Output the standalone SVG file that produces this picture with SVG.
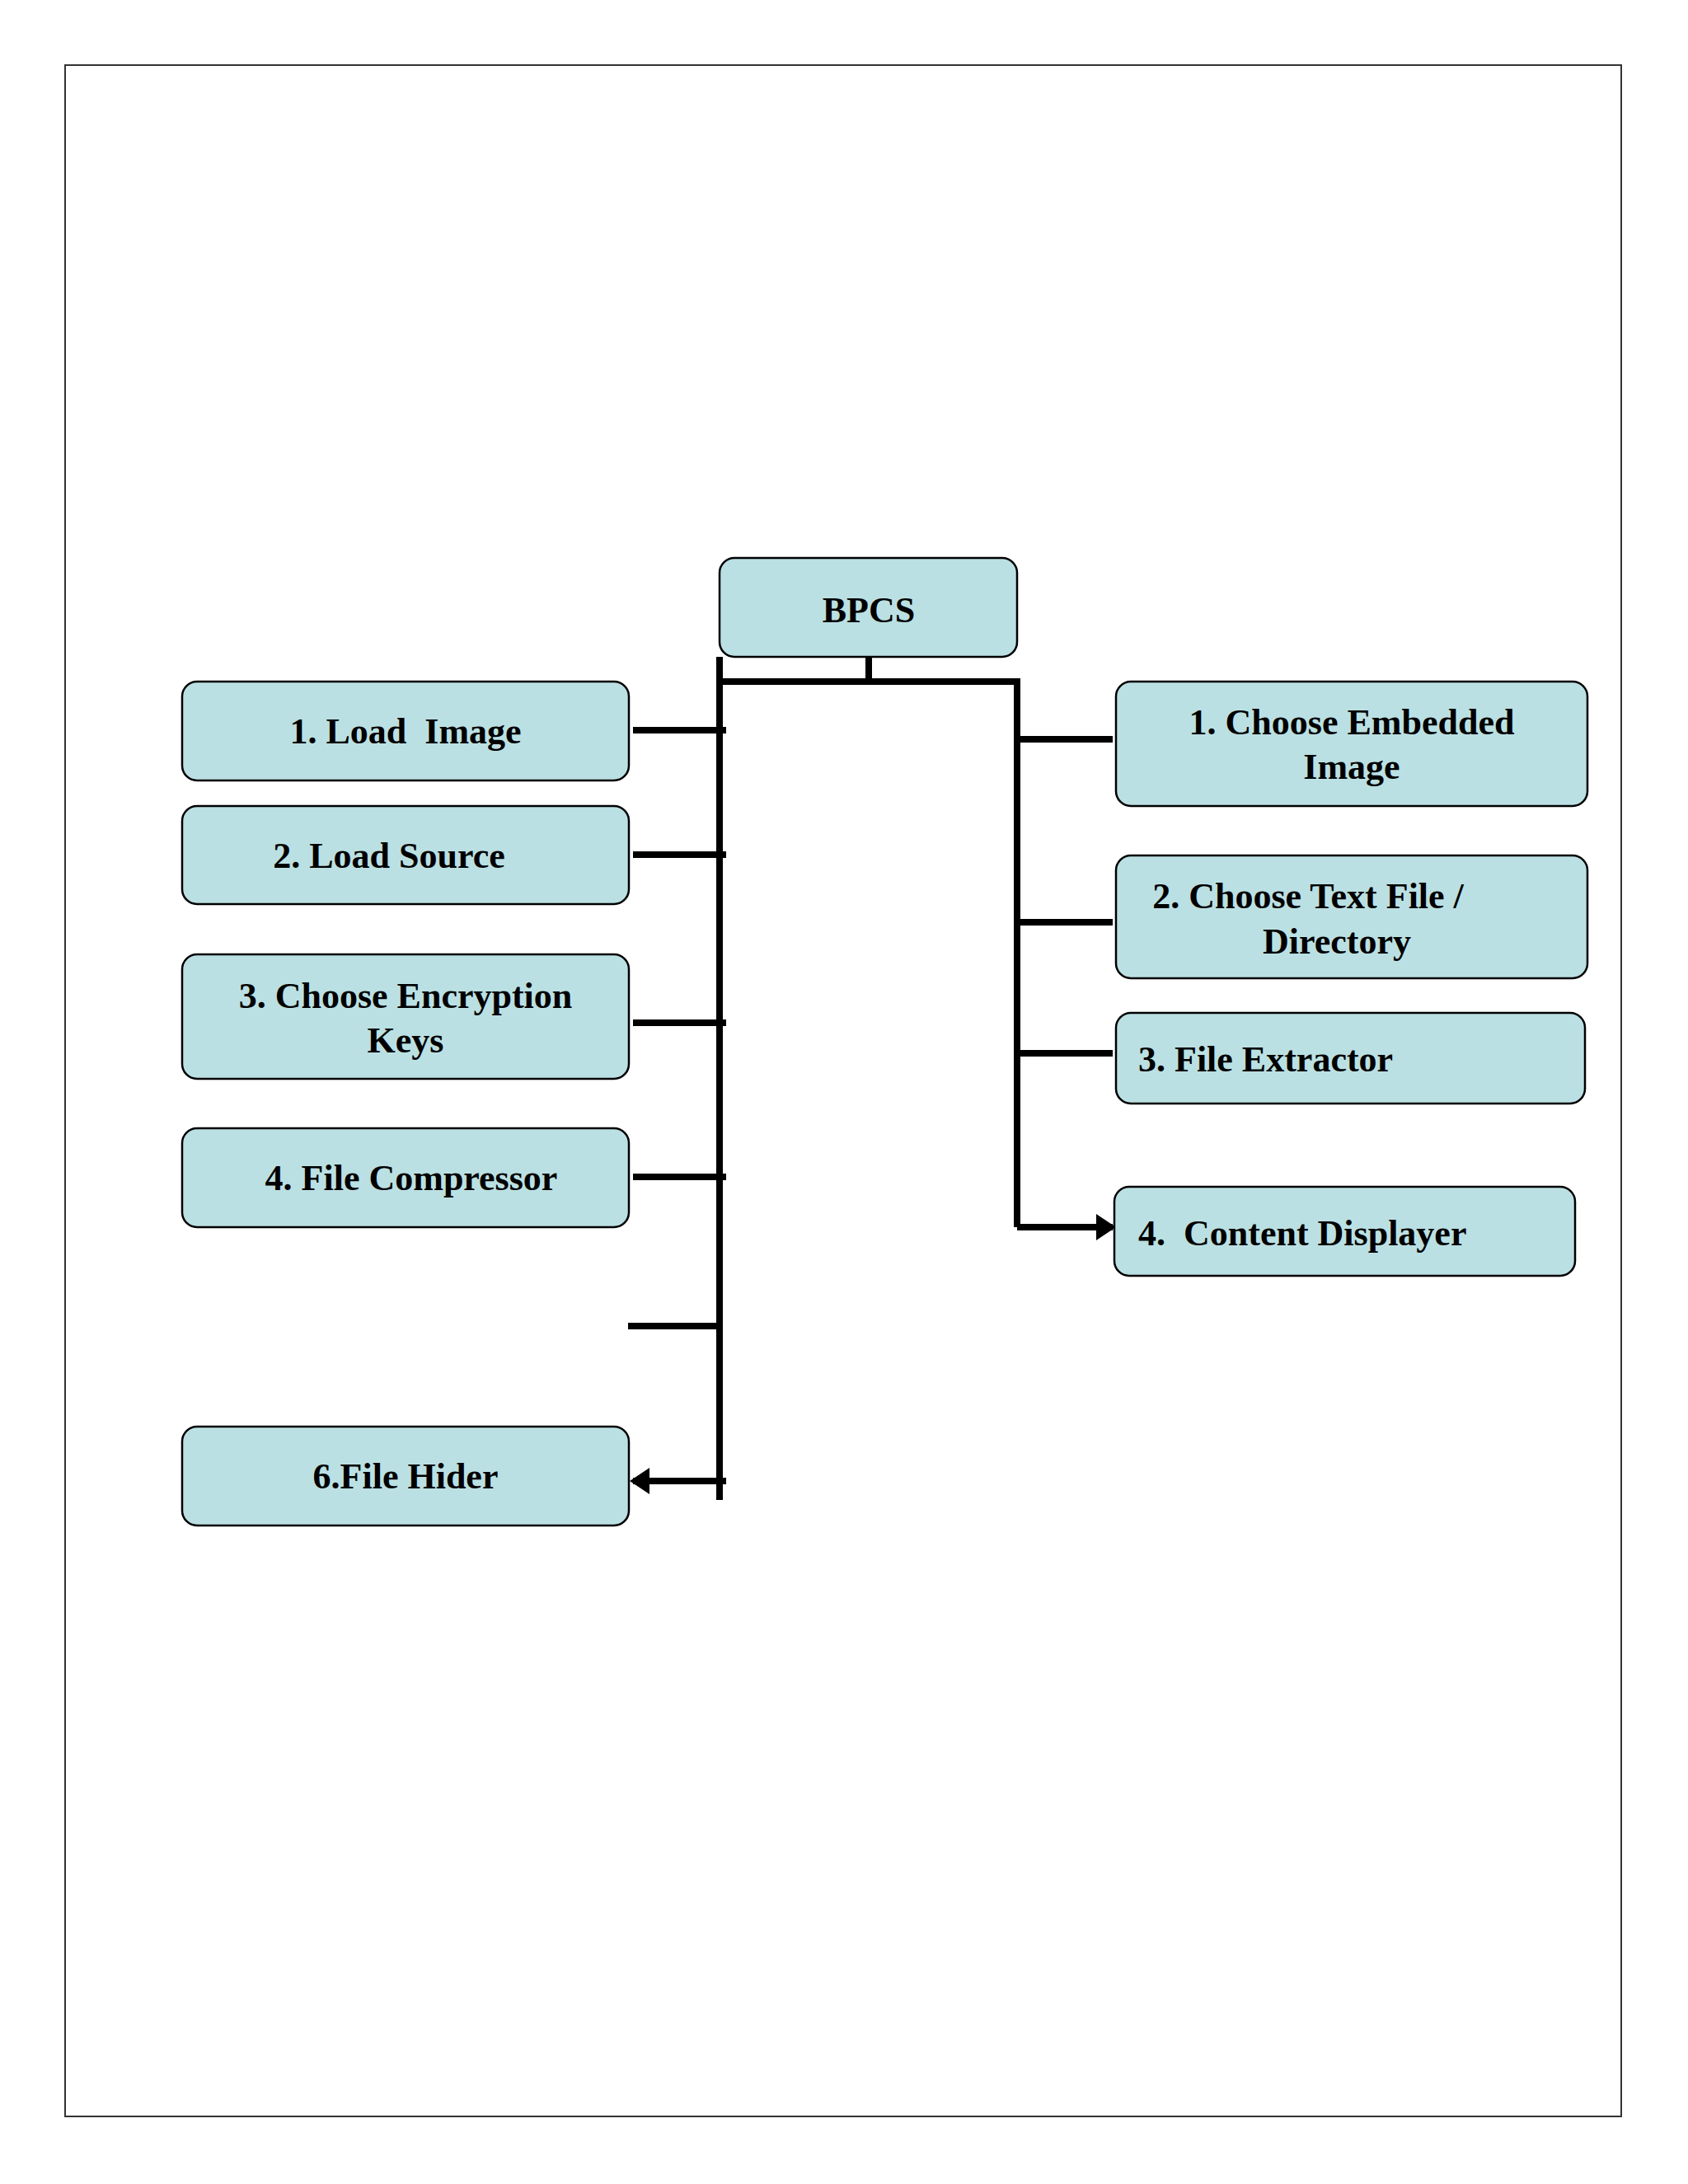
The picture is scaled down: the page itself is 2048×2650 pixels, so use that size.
<svg xmlns="http://www.w3.org/2000/svg" width="2048" height="2650" viewBox="0 0 2048 2650">
<style>
.b{fill:#bbe0e3;stroke:#000;stroke-width:2.5}
.t{font-family:"Liberation Serif",serif;font-weight:bold;font-size:44px;fill:#000}
.c{stroke:#000;stroke-width:8;fill:none}
</style>
<defs><marker id="a" markerWidth="4" markerHeight="4" refX="2.5" refY="2" orient="auto" markerUnits="strokeWidth"><path d="M0,0L3,2L0,4z" fill="#000"/></marker></defs>
<rect width="2048" height="2650" fill="#fff"/>
<rect x="79" y="79" width="1888" height="2489" fill="none" stroke="#333" stroke-width="2"/>
<g id="connectors">
<path class="c" d="M1054 797V827M873 827H1234V1489M873 797V1820"/>
<path class="c" marker-end="url(#a)" d="M881 886H768M881 1037H768M881 1241H768M881 1428H768M873 1609H762M881 1797H768"/>
<path class="c" marker-end="url(#a)" d="M1234 897H1350M1234 1119H1350M1234 1278H1350M1234 1489H1350"/>
</g>
<g id="bpcs"><rect class="b" x="873" y="677" width="361" height="120" rx="18"/><text class="t" x="1054" y="755" text-anchor="middle" font-size="50">BPCS</text></g>
<g id="l1"><rect class="b" x="221" y="827" width="542" height="120" rx="18"/><text class="t" x="492" y="902" text-anchor="middle" xml:space="preserve">1. Load  Image</text></g>
<g id="l2"><rect class="b" x="221" y="978" width="542" height="119" rx="18"/><text class="t" x="472" y="1053" text-anchor="middle">2. Load Source</text></g>
<g id="l3"><rect class="b" x="221" y="1158" width="542" height="151" rx="18"/><text class="t" x="492" y="1223" text-anchor="middle">3. Choose Encryption</text><text class="t" x="492" y="1277" text-anchor="middle">Keys</text></g>
<g id="l4"><rect class="b" x="221" y="1369" width="542" height="120" rx="18"/><text class="t" x="499" y="1444" text-anchor="middle">4. File Compressor</text></g>
<g id="l6"><rect class="b" x="221" y="1731" width="542" height="120" rx="18"/><text class="t" x="492" y="1806" text-anchor="middle">6.File Hider</text></g>
<g id="r1"><rect class="b" x="1354" y="827" width="572" height="151" rx="18"/><text class="t" x="1640" y="891" text-anchor="middle">1. Choose Embedded</text><text class="t" x="1640" y="945" text-anchor="middle">Image</text></g>
<g id="r2"><rect class="b" x="1354" y="1038" width="572" height="149" rx="18"/><text class="t" x="1587" y="1102" text-anchor="middle">2. Choose Text File /</text><text class="t" x="1622" y="1157" text-anchor="middle">Directory</text></g>
<g id="r3"><rect class="b" x="1354" y="1229" width="569" height="110" rx="18"/><text class="t" x="1381" y="1300">3. File Extractor</text></g>
<g id="r4"><rect class="b" x="1352" y="1440" width="559" height="108" rx="18"/><text class="t" x="1381" y="1511" xml:space="preserve">4.  Content Displayer</text></g>
</svg>
